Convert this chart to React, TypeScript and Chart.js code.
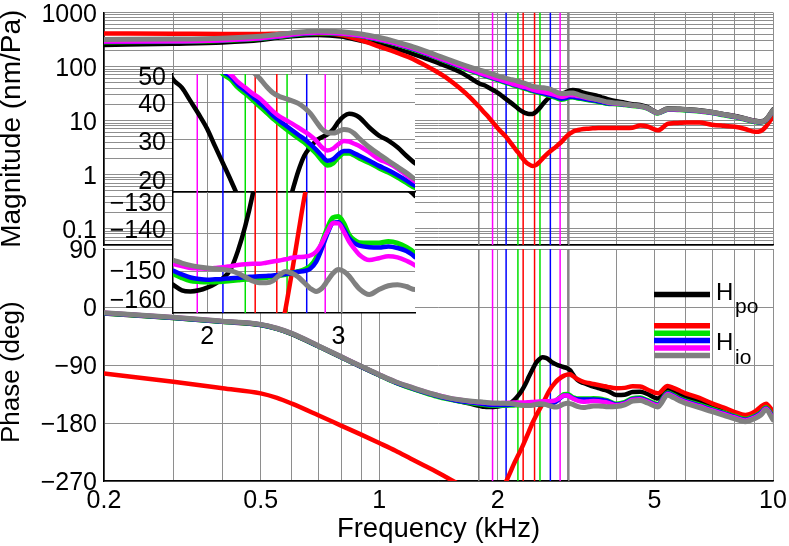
import React, { useEffect, useRef } from 'react';
import { Chart, registerables } from 'chart.js';

Chart.register(...registerables);

const FONT = "'Liberation Sans', Arial, Helvetica, sans-serif";
Chart.defaults.font.family = FONT;
Chart.defaults.color = '#000';

// ---------- data ----------
const FREQ = [0.2, 0.3, 0.4, 0.5, 0.55, 0.6, 0.7, 0.8, 0.9, 1.0, 1.1, 1.2, 1.3, 1.4, 1.5, 1.6, 1.7,
  1.8, 1.85, 1.9, 1.95, 2.0, 2.05, 2.1, 2.15, 2.2, 2.25, 2.3, 2.35, 2.4, 2.45, 2.5, 2.55, 2.6, 2.65, 2.7, 2.75, 2.8, 2.85, 2.9, 2.95, 3.0, 3.05, 3.1, 3.15, 3.2,
  3.3, 3.4, 3.5, 3.6, 3.7, 3.8,
  4.0, 4.2, 4.4, 4.6, 4.8, 5.1, 5.4, 5.6, 5.8, 6.0, 6.5, 7.0, 7.5, 8.0, 8.5, 9.0, 9.3, 9.6, 10];

const MAG_BLACK = [250, 265, 280, 310, 340, 365, 385, 360, 300, 260, 215, 178, 145, 120, 98, 80, 62,
  48, 45, 40.5, 36.5, 32.7, 28.5, 25, 22, 19.3, 16.8, 15, 13.8, 13.2, 13.3, 14.5, 16.8, 20, 23.5, 26.5, 28.3, 29.8, 30.6, 31.3, 32.5, 34.5, 36, 36.7, 36.5, 35.7,
  33, 31, 29.8, 28.3, 26.5, 25,
  22.8, 21.5, 20, 19.5, 17.8, 14.2, 16.8, 16.8, 16.5, 16.3, 15.6, 14.5, 13.2, 12.2, 11, 10, 9.7, 10.6, 16];
const MAG_RED = [410, 405, 400, 400, 405, 410, 410, 385, 305, 235, 185, 145, 108, 80, 58, 40, 27,
  17.5, 14, 11.3, 9, 7.2, 6, 5, 4, 3.2, 2.6, 2.1, 1.75, 1.55, 1.45, 1.5, 1.7, 2, 2.3, 2.6, 2.9, 3.2, 3.6, 4, 4.6, 5.2, 5.8, 6.2, 6.5, 6.7,
  7, 7.1, 7.2, 7.3, 7.3, 7.3,
  7.3, 7.3, 7.4, 8.1, 7.8, 6.6, 8.7, 9, 9.1, 9.2, 9.2, 8.4, 8, 7.7, 7, 6.2, 6.4, 7.8, 11.8];
const MAG_GREEN = [286, 291, 304, 330, 354, 384, 419, 404, 366, 314, 264, 218, 178, 146, 120, 100, 85,
  73, 68, 63.8, 60, 56.5, 53.2, 50, 48, 45, 43, 41, 39, 37.2, 35.4, 34, 32.7, 31.5, 30.4, 29.4, 28.2, 27, 25.6, 24.6, 25, 26.2, 27, 27, 26.6, 26,
  25.1, 24.1, 23.3, 22.4, 21.5, 20.7,
  20.3, 19.6, 18.9, 18.3, 16.9, 13.7, 16, 16.1, 15.8, 15.6, 14.9, 13.9, 12.7, 11.7, 10.5, 9.5, 9.2, 10.1, 15.1];
const MAG_BLUE = [288, 293, 306, 333, 357, 387, 422, 407, 369, 317, 267, 220, 180, 148, 122, 102, 86.5,
  74.5, 69.5, 65, 61, 57.5, 54.2, 51, 49, 46, 44, 42, 40, 38.2, 36.3, 34.8, 33.5, 32.3, 31.2, 30.2, 29, 27.8, 26.5, 25.5, 25.8, 26.8, 27.5, 27.5, 27, 26.5,
  25.5, 24.5, 23.7, 22.8, 21.9, 21,
  20.5, 19.8, 19, 18.4, 17, 13.8, 16.1, 16.2, 15.9, 15.7, 15, 14, 12.8, 11.8, 10.6, 9.6, 9.3, 10.2, 15.2];
const MAG_MAGENTA = [290, 295, 308, 335, 360, 390, 425, 410, 372, 320, 270, 223, 183, 150, 124, 104, 88,
  76, 71, 66.5, 62.5, 59, 55.8, 52.5, 50, 47, 45, 43, 41.5, 39.5, 37.5, 36, 35, 34, 33, 32, 31, 29.8, 28.3, 27.6, 28, 29, 29.7, 29.6, 29.1, 28.6,
  27.2, 25.8, 25, 24, 22.8, 21.7,
  20.8, 20, 19.1, 18.5, 17.1, 13.9, 16.2, 16.3, 16, 15.8, 15.1, 14.1, 12.9, 11.9, 10.7, 9.7, 9.4, 10.3, 15.3];
const MAG_GRAY = [318, 322, 335, 365, 392, 420, 455, 440, 400, 345, 290, 240, 197, 162, 135, 114, 98,
  86, 81, 76, 72, 67, 63.5, 60.5, 58, 56, 53.5, 51, 48.5, 45.5, 43.2, 42, 41.3, 40.6, 39.8, 38.5, 36.8, 34.6, 32.6, 31.7, 31.6, 32, 32.5, 32.3, 31.5, 30.3,
  28.3, 26.8, 25.5, 24.3, 23.2, 22.1,
  21.2, 20.3, 19.3, 18.7, 17.3, 14, 16.4, 16.5, 16.2, 16, 15.3, 14.3, 13, 12, 10.8, 9.8, 9.5, 10.4, 15.5];

const PH_BLACK = [-10, -17, -23, -28, -34, -42, -61, -78, -93, -106, -117, -125.5, -132.5, -138, -142.5, -146.5, -150,
  -153.5, -155, -155.3, -155, -154.3, -153.3, -151.8, -149.5, -144.5, -138, -130, -120, -108, -97, -87, -81, -78, -79, -82, -86, -88.5, -90.5, -92, -93.5, -95, -98, -104, -110, -114,
  -118, -121, -123.5, -126, -128, -130,
  -136.5, -136, -132, -131.5, -135, -142, -126.5, -130, -135, -139, -146, -154.5, -161, -168, -172.5, -168, -163, -155, -167];
const PH_RED = [-103, -116, -126, -134, -141, -150, -168, -184, -198, -211, -223, -235, -246, -256, -266, -276, -290,
  -303, -309, -312, -309, -300, -286, -271, -257, -243, -231, -219, -206, -193, -180, -169, -159.5, -150, -140, -130.5, -123, -117, -112.5, -109, -106.5, -105, -104.5, -107, -110, -112.5,
  -116, -118, -119.5, -121, -122.5, -124,
  -126, -125.5, -123, -123.5, -128, -134, -122.5, -126, -130, -134, -141, -149.5, -156, -163, -167.5, -162, -155, -150, -162];
const PH_GREEN = [-9.5, -16.5, -22.5, -27.5, -33.5, -41.5, -60.5, -77.5, -92.5, -105.5, -117, -125.5, -132.5, -138.5, -143, -146.5, -148.8,
  -150.6, -151.7, -152.5, -152.7, -152.8, -152.8, -152.7, -152.5, -152.3, -152.1, -152, -151.8, -151.6, -151.4, -151.1, -150.8, -150.4, -150, -149.5, -148.6, -146.5, -142.5, -138.5, -135.8, -135.5, -137.3, -140.3, -141.7, -142.4,
  -142.5, -142.5, -142.1, -142.5, -143.6, -145.2,
  -150.5, -148, -142, -141, -145, -151, -133, -137, -142, -145.5, -152, -158.5, -164, -169.5, -174, -169, -164, -156, -171];
const PH_BLUE = [-9.5, -16.5, -22.5, -27.5, -33.5, -41.5, -60.5, -77.5, -92.5, -105.5, -117, -125, -132, -138, -142.5, -146, -148,
  -149.8, -150.8, -151.6, -152, -152.2, -152.1, -152, -151.8, -151.7, -151.5, -151.4, -151.3, -151.2, -151.1, -150.9, -150.7, -150.4, -150.1, -149.9, -149.3, -147.5, -144, -140, -137.2, -137, -138.8, -141.2, -142.5, -143.2,
  -143.6, -143.7, -143.4, -143.8, -144.6, -146.2,
  -151.5, -149, -143, -142, -146, -152, -134, -138, -143, -146.5, -153, -159.5, -165, -170.5, -175, -170, -165, -157, -172];
const PH_MAGENTA = [-9, -16, -22, -27, -33, -41, -60, -77, -92, -105, -116, -124, -131, -136.5, -141, -144, -146.5,
  -148, -148.6, -149.1, -149.2, -149.3, -149.1, -148.9, -148.6, -148.3, -148.1, -148, -148, -147.7, -147.4, -147.1, -146.8, -146.4, -146.2, -146.1, -145.8, -144.8, -142.5, -139.5, -137.2, -137.3, -139.5, -142.1, -144, -145.6,
  -147, -146.5, -146, -146.3, -147.2, -148.4,
  -152.5, -150, -144, -143, -147, -153, -135, -139, -144, -147.5, -154, -160.5, -166, -171.5, -176, -171, -166, -158, -173];
const PH_GRAY = [-9, -16, -22, -27, -33, -41, -60, -77, -92, -105, -116, -124, -131, -136.5, -141, -144, -146,
  -147, -147.8, -148.4, -148.8, -149.1, -149.3, -149.5, -149.8, -150.5, -151.5, -152.5, -153, -153, -152.5, -151, -150, -150.5, -151.5, -153, -154.5, -155.3, -154.5, -152.5, -150.5, -149.5, -150, -151.2, -153, -154.6,
  -156.1, -154.8, -153.8, -153.5, -154, -154.8,
  -154.5, -152, -146, -145, -149, -155, -137, -141, -146, -149.5, -156, -162.5, -168, -173.5, -178, -173, -168, -160, -175];

// vertical marker frequencies (kHz)
const MARKER_GRAY = [1.79, 3.03];
const MARKER_MAGENTA = [1.94, 2.88];
const MARKER_BLUE = [2.10, 2.72];
const MARKER_GREEN = [2.25, 2.56];
const MARKER_RED = [2.32, 2.48];

// ticks
const FREQ_TICK_LABELS = [0.2, 0.5, 1, 2, 5, 10];
const MAG_TICK_LABELS = [0.1, 1, 10, 100, 1000];
const PHASE_TICKS = [-270, -180, -90, 0, 90];
const INSET_FREQ_TICKS = [2, 3];
const INSET_MAG_TICKS = [20, 30, 40, 50];
const INSET_PHASE_TICKS = [-160, -150, -140, -130];
const INSET_PHASE_GRID = [-150, -140];

// ---------- styling ----------
const W = 789;
const H = 546;
const GRID = '#8e8e8e';
const TICK_FONT = 25;
const C = { black: '#000000', red: '#ff0000', green: '#00e000', blue: '#0000ff', magenta: '#ff00ff', gray: '#808080' };

const SERIES = [
  { mag: MAG_GRAY, ph: PH_GRAY, color: C.gray, width: 5, order: 0 },
  { mag: MAG_MAGENTA, ph: PH_MAGENTA, color: C.magenta, width: 4.5, order: 1 },
  { mag: MAG_BLUE, ph: PH_BLUE, color: C.blue, width: 4.5, order: 2 },
  { mag: MAG_GREEN, ph: PH_GREEN, color: C.green, width: 5, order: 3 },
  { mag: MAG_RED, ph: PH_RED, color: C.red, width: 4.5, order: 4 },
  { mag: MAG_BLACK, ph: PH_BLACK, color: C.black, width: 4.5, order: 5 },
];
const MARKERS = [
  { freqs: MARKER_GRAY, color: C.gray },
  { freqs: MARKER_MAGENTA, color: C.magenta },
  { freqs: MARKER_BLUE, color: C.blue },
  { freqs: MARKER_GREEN, color: C.green },
  { freqs: MARKER_RED, color: C.red },
];

// label nudges (px, + = down) for the inset axis labels
const INSET_MAG_NUDGE: Record<string, number> = { '50': 4, '40': 2, '30': 3, '20': -10 };
const INSET_PHASE_NUDGE: Record<string, number> = { '-130': 8, '-140': -2, '-150': 1, '-160': -8 };

function logGrid(min: number, max: number) {
  const out: number[] = [];
  for (let e = Math.floor(Math.log10(min)); e <= Math.ceil(Math.log10(max)); e++) {
    for (let m = 1; m <= 9; m++) {
      const v = Number((m * Math.pow(10, e)).toPrecision(6));
      if (v >= min * 0.9999 && v <= max * 1.0001) out.push(v);
    }
  }
  return out;
}
const MAIN_X_GRID = logGrid(0.2, 10);
const MAG_GRID = logGrid(0.05, 1000);

const near = (list: number[], v: number) => list.some((t) => Math.abs(t - v) <= Math.abs(t) * 1e-6 + 1e-9);
const fmt = (v: number) => String(v).replace('-', '\u2212');
const nudge = (text: string, off: number) => {
  const n = Math.round(Math.abs(off || 0));
  if (!n) return text;
  const blanks = Array(n).fill('');
  return off > 0 ? [...blanks, text] : [text, ...blanks];
};

const fitW = (w: number) => (s: any) => { s.width = w; s.paddingTop = 0; s.paddingBottom = 0; s.paddingLeft = 0; s.paddingRight = 0; };
const fitH = (h: number) => (s: any) => { s.height = h; s.paddingTop = 0; s.paddingBottom = 0; s.paddingLeft = 0; s.paddingRight = 0; };
const setTicks = (vals: number[]) => (s: any) => { s.ticks = vals.map((v) => ({ value: v })); };

function curves(key: 'mag' | 'ph') {
  return SERIES.map((s) => ({
    data: FREQ.map((f, i) => ({ x: f, y: s[key][i] })),
    borderColor: s.color,
    borderWidth: s.width,
    pointRadius: 0,
    fill: false,
    cubicInterpolationMode: 'monotone',
    borderJoinStyle: 'round',
    borderCapStyle: 'round',
    order: s.order,
  }));
}
function markers(lo: number, hi: number, width = 1.5) {
  const out: any[] = [];
  MARKERS.forEach((m) => m.freqs.forEach((f) => {
    out.push({ data: [{ x: f, y: lo }, { x: f, y: hi }], borderColor: m.color, borderWidth: width, pointRadius: 0, fill: false, tension: 0, order: 10 });
  }));
  return out;
}

const gridOpts = { color: GRID, lineWidth: 1, drawTicks: false };
const borderOpts = { display: true, color: '#000', width: 1.5 };

function baseConfig(datasets: any[], padding: any, scales: any, plugins: any[] = []) {
  return {
    type: 'line',
    data: { datasets },
    options: {
      animation: false,
      responsive: false,
      maintainAspectRatio: false,
      events: [],
      layout: { padding },
      plugins: { legend: { display: false }, tooltip: { enabled: false } },
      scales,
    },
    plugins,
  };
}

const whiteArea = (inset: number) => ({
  id: 'whiteArea' + inset,
  beforeDraw(chart: any) {
    const a = chart.chartArea;
    const c = chart.ctx;
    c.save();
    c.fillStyle = '#ffffff';
    c.fillRect(a.left, a.top + inset, a.right - a.left, a.bottom - a.top - inset);
    c.restore();
  },
});

const LEGEND = [
  { main: 'H', sub: 'po', colors: [C.black], lineY: [294.5], textY: 300, subY: 312.5 },
  { main: 'H', sub: 'io', colors: [C.red, C.green, C.blue, C.magenta, C.gray], lineY: [325.8, 333.2, 340.6, 348, 355.4], textY: 350, subY: 364 },
];
const legendPlugin = {
  id: 'bodeLegend',
  afterDatasetsDraw(chart: any) {
    const c = chart.ctx;
    c.save();
    LEGEND.forEach((e) => {
      e.colors.forEach((col, i) => {
        c.strokeStyle = col;
        c.lineWidth = 5.5;
        c.beginPath();
        c.moveTo(654, e.lineY[i]);
        c.lineTo(710, e.lineY[i]);
        c.stroke();
      });
      c.fillStyle = '#000';
      c.textBaseline = 'alphabetic';
      c.textAlign = 'left';
      c.font = `24px ${FONT}`;
      c.fillText(e.main, 716, e.textY);
      c.font = `21px ${FONT}`;
      c.fillText(e.sub, 735, e.subY);
    });
    c.restore();
  },
};

function magConfig() {
  return baseConfig(
    [...curves('mag'), ...markers(0.05, 1000)],
    { left: 0, top: 12.5, right: W - 773, bottom: H - 245 },
    {
      x: {
        type: 'logarithmic', min: 0.2, max: 10,
        afterBuildTicks: setTicks(MAIN_X_GRID), afterFit: fitH(0),
        ticks: { display: false, autoSkip: false, maxRotation: 0 },
        grid: gridOpts, border: borderOpts,
      },
      y: {
        type: 'logarithmic', min: 0.05, max: 1000,
        afterBuildTicks: setTicks(MAG_GRID), afterFit: fitW(104),
        ticks: {
          autoSkip: false, padding: 7, labelOffset: 2.5, color: '#000', font: { size: TICK_FONT },
          callback: (v: number) => (near(MAG_TICK_LABELS, v) ? String(v) : ''),
        },
        grid: gridOpts, border: borderOpts,
        title: { display: true, text: 'Magnitude (nm/Pa)', color: '#000', font: { size: 28, lineHeight: '24px' }, padding: 0 },
      },
    }
  );
}

function phaseConfig() {
  return baseConfig(
    [...curves('ph'), ...markers(-270, 90)],
    { left: 0, top: 249, right: W - 773, bottom: 0 },
    {
      x: {
        type: 'logarithmic', min: 0.2, max: 10,
        afterBuildTicks: setTicks(MAIN_X_GRID), afterFit: fitH(H - 481),
        ticks: {
          autoSkip: false, maxRotation: 0, minRotation: 0, padding: 5, color: '#000', font: { size: TICK_FONT },
          callback: (v: number) => (near(FREQ_TICK_LABELS, v) ? String(v) : ''),
        },
        grid: gridOpts, border: borderOpts,
        title: { display: true, text: 'Frequency (kHz)', color: '#000', font: { size: 27.5 }, padding: { top: 0, bottom: 0 } },
      },
      y: {
        type: 'linear', min: -270, max: 90,
        afterBuildTicks: setTicks(PHASE_TICKS), afterFit: fitW(104),
        ticks: { autoSkip: false, padding: 7, labelOffset: 2.5, color: '#000', font: { size: TICK_FONT }, callback: (v: number) => fmt(v) },
        grid: gridOpts, border: borderOpts,
        title: { display: true, text: 'Phase (deg)  ', color: '#000', font: { size: 26, lineHeight: '24px' }, padding: 0 },
      },
    },
    [legendPlugin]
  );
}

function insetMagConfig() {
  return baseConfig(
    [...curves('mag'), ...markers(20, 50)],
    { left: 0, top: 74, right: W - 415, bottom: H - 192 },
    {
      x: {
        type: 'logarithmic', min: 1.8, max: 3.8,
        afterBuildTicks: setTicks(INSET_FREQ_TICKS), afterFit: fitH(0),
        ticks: { display: false, autoSkip: false, maxRotation: 0 },
        grid: gridOpts, border: borderOpts,
      },
      y: {
        type: 'logarithmic', min: 20, max: 50,
        afterBuildTicks: setTicks(INSET_MAG_TICKS), afterFit: fitW(173),
        ticks: {
          autoSkip: false, padding: 7, color: '#000', font: { size: TICK_FONT, lineHeight: '2px' },
          callback: (v: number) => nudge(String(v), INSET_MAG_NUDGE[String(v)]),
        },
        grid: gridOpts, border: borderOpts,
      },
    },
    [whiteArea(0)]
  );
}

function insetPhaseConfig() {
  return baseConfig(
    [...curves('ph'), ...markers(-161, -129)],
    { left: 0, top: 192, right: W - 415, bottom: 0 },
    {
      x: {
        type: 'logarithmic', min: 1.8, max: 3.8,
        afterBuildTicks: setTicks(INSET_FREQ_TICKS), afterFit: fitH(H - 313),
        ticks: { autoSkip: false, maxRotation: 0, minRotation: 0, padding: 9, color: '#000', font: { size: TICK_FONT }, callback: (v: number) => String(v) },
        grid: gridOpts, border: borderOpts,
      },
      y: {
        type: 'linear', min: -161, max: -129,
        afterBuildTicks: setTicks(INSET_PHASE_TICKS), afterFit: fitW(173),
        ticks: {
          autoSkip: false, padding: 7, color: '#000', font: { size: TICK_FONT, lineHeight: '2px' },
          callback: (v: number) => nudge(fmt(v), INSET_PHASE_NUDGE[String(v)]),
        },
        grid: {
          ...gridOpts,
          color: (ctx: any) => (ctx.tick && INSET_PHASE_GRID.includes(ctx.tick.value) ? GRID : 'rgba(0,0,0,0)'),
        },
        border: borderOpts,
      },
    },
    [whiteArea(1)]
  );
}

export default function App() {
  const magRef = useRef<HTMLCanvasElement>(null);
  const phRef = useRef<HTMLCanvasElement>(null);
  const imRef = useRef<HTMLCanvasElement>(null);
  const ipRef = useRef<HTMLCanvasElement>(null);

  useEffect(() => {
    const charts: Chart[] = [];
    if (magRef.current) charts.push(new Chart(magRef.current, magConfig() as any));
    if (phRef.current) charts.push(new Chart(phRef.current, phaseConfig() as any));
    if (imRef.current) charts.push(new Chart(imRef.current, insetMagConfig() as any));
    if (ipRef.current) charts.push(new Chart(ipRef.current, insetPhaseConfig() as any));
    return () => charts.forEach((c) => c.destroy());
  }, []);

  const cs: React.CSSProperties = { position: 'absolute', left: 0, top: 0, width: W, height: H };
  return (
    <div style={{ position: 'fixed', left: 0, top: 0, width: W, height: H, background: '#fff', overflow: 'hidden' }}>
      <canvas ref={magRef} width={W} height={H} style={cs} />
      <canvas ref={phRef} width={W} height={H} style={cs} />
      <canvas ref={imRef} width={W} height={H} style={cs} />
      <canvas ref={ipRef} width={W} height={H} style={cs} />
    </div>
  );
}
